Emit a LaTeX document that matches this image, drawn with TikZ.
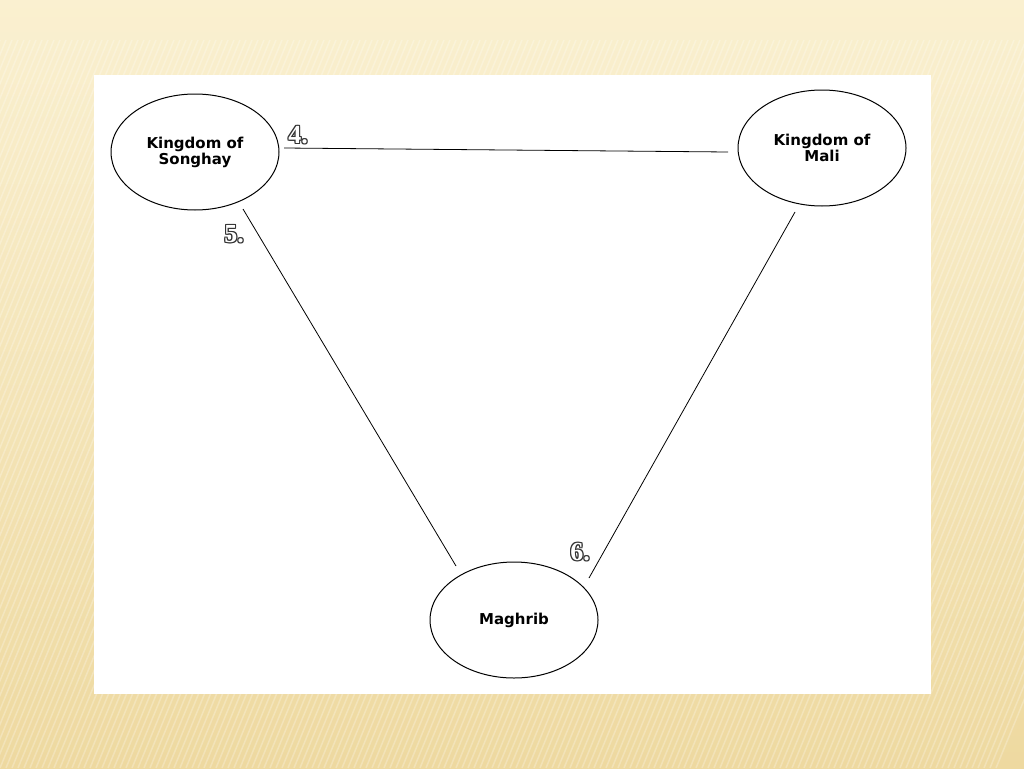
\documentclass[tikz,border=0pt]{standalone}
\usepackage{fontspec}
\usetikzlibrary{shapes.geometric,calc}
\setmainfont{DejaVu Sans}
\newfontfamily\numfont{Liberation Serif}
\definecolor{bgtop}{HTML}{FAF0D0}
\definecolor{bgbot}{HTML}{EED9A0}
\begin{document}
\begin{tikzpicture}[x=1pt,y=-1pt,
  place/.style={draw,line width=1pt,ellipse,minimum width=168pt,minimum height=116pt,inner sep=0pt,font=\bfseries\fontsize{15}{16}\selectfont,align=center},
  link/.style={line width=0.8pt}]
\useasboundingbox (0,0) rectangle (1024,768);
\shade[top color=bgtop,bottom color=bgbot] (0,0) rectangle (1024,768);
\foreach \i in {0,6,...,1300}{
  \draw[white,opacity=0.25,line width=1.5pt] (\i-300,768) -- (\i,40);
}
\fill[bgtop,opacity=0.7] (0,0) rectangle (1024,40);
\fill[white] (94,75) rectangle (931,694);
\node[place] (s) at (195,152) {Kingdom of\\Songhay};
\node[place] (m) at (822,148) {Kingdom of\\Mali};
\node[place] (g) at (514,620) {Maghrib};
\coordinate (a1) at (284,148);
\coordinate (a2) at (728,152);
\coordinate (b1) at (243,209);
\coordinate (b2) at (456,566);
\coordinate (c1) at (795,212);
\coordinate (c2) at (589,578);
\draw[link] (a1) -- (a2);
\draw[link] (b1) -- (b2);
\draw[link] (c1) -- (c2);
\foreach \t/\x/\y in {4./298/135,5./234/234,6./580/552}{
  \foreach \dx/\dy in {-1/0,1/0,0/-1,0/1,-1/-1,1/1,-1/1,1/-1}
    \node[font=\numfont\bfseries\fontsize{26}{26}\selectfont,text=black!80] at (\x+\dx,\y+\dy) {\t};
  \node[font=\numfont\bfseries\fontsize{26}{26}\selectfont,text=white] at (\x,\y) {\t};
}
\end{tikzpicture}
\end{document}
